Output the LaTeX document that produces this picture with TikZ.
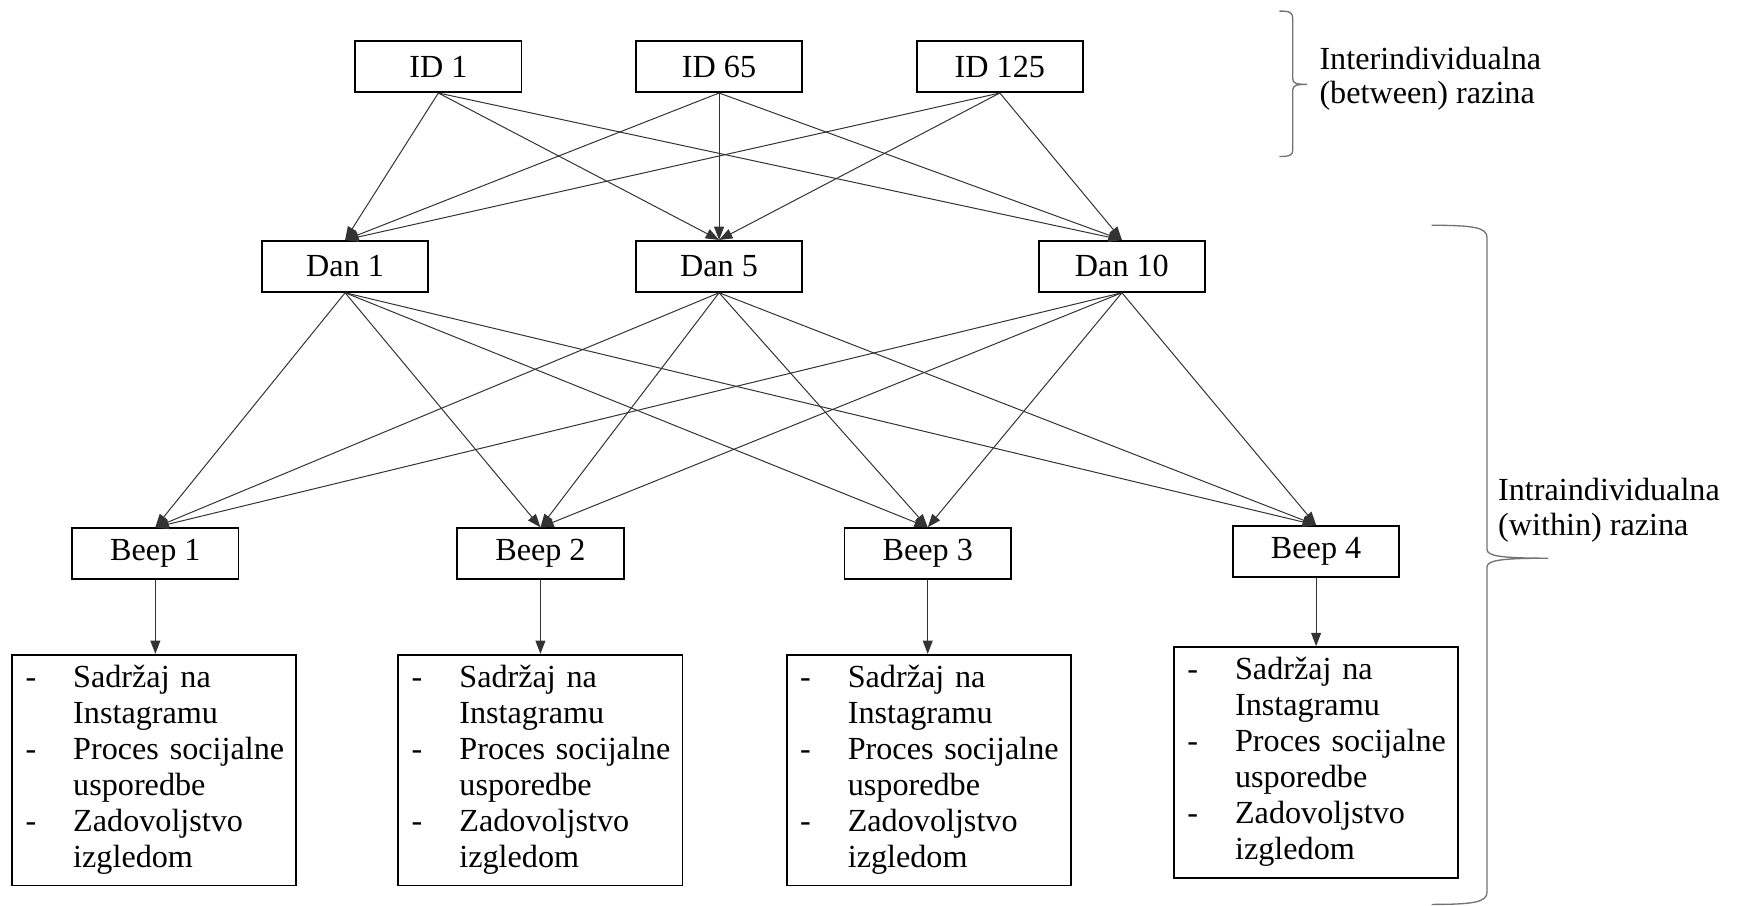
\documentclass[tikz,border=0pt]{standalone}
\usepackage{fontspec}
\setmainfont{Liberation Serif}
\usetikzlibrary{arrows.meta}

\newcommand{\measurelist}{%
  \begin{tabular}{@{}p{21.5pt}@{}l@{}}
    - & Sadržaj na\\
      & Instagramu\\
    - & Proces socijalne\\
      & usporedbe\\
    - & Zadovoljstvo\\
      & izgledom
  \end{tabular}}

\begin{document}
\begin{tikzpicture}[x=0.5pt,y=-0.5pt,
  every node/.style={font=\fontsize{14.5}{16.2}\selectfont},
  levelbox/.style={draw, line width=0.8pt, minimum width=75pt, minimum height=23pt, inner sep=0pt},
  listbox/.style={draw, line width=0.8pt, text width=116pt, inner xsep=6pt, inner ysep=0pt, minimum height=104pt, align=left},
  link/.style={draw=black!80, line width=0.45pt, -{Triangle[length=6pt,width=4.5pt]}},
  curly/.style={draw=black!55, line width=0.6pt}]
  \useasboundingbox (0,0) rectangle (1568,816);

  % levels
  \node[levelbox] (id1) at (395,60) {ID 1};
  \node[levelbox] (id65) at (648,60) {ID 65};
  \node[levelbox] (id125) at (901,60) {ID 125};

  \node[levelbox] (dan1) at (311,240) {Dan 1};
  \node[levelbox] (dan5) at (648,240) {Dan 5};
  \node[levelbox] (dan10) at (1011,240) {Dan 10};

  \node[levelbox] (beep1) at (140,499) {Beep 1};
  \node[levelbox] (beep2) at (487,499) {Beep 2};
  \node[levelbox] (beep3) at (836,499) {Beep 3};
  \node[levelbox] (beep4) at (1186,497) {Beep 4};

  % measures
  \node[listbox] (list1) at (139,694) {\measurelist};
  \node[listbox] (list2) at (487,694) {\measurelist};
  \node[listbox] (list3) at (837,694) {\measurelist};
  \node[listbox] (list4) at (1186,687) {\measurelist};

  % between -> days
  \draw[link] (id1.south) -- (dan1.north);
  \draw[link] (id1.south) -- (dan5.north);
  \draw[link] (id1.south) -- (dan10.north);
  \draw[link] (id65.south) -- (dan1.north);
  \draw[link] (id65.south) -- (dan5.north);
  \draw[link] (id65.south) -- (dan10.north);
  \draw[link] (id125.south) -- (dan1.north);
  \draw[link] (id125.south) -- (dan5.north);
  \draw[link] (id125.south) -- (dan10.north);

  % days -> beeps
  \draw[link] (dan1.south) -- (beep1.north);
  \draw[link] (dan1.south) -- (beep2.north);
  \draw[link] (dan1.south) -- (beep3.north);
  \draw[link] (dan1.south) -- (beep4.north);
  \draw[link] (dan5.south) -- (beep1.north);
  \draw[link] (dan5.south) -- (beep2.north);
  \draw[link] (dan5.south) -- (beep3.north);
  \draw[link] (dan5.south) -- (beep4.north);
  \draw[link] (dan10.south) -- (beep1.north);
  \draw[link] (dan10.south) -- (beep2.north);
  \draw[link] (dan10.south) -- (beep3.north);
  \draw[link] (dan10.south) -- (beep4.north);

  % beeps -> measures
  \draw[link] (beep1.south) -- (beep1.south |- list1.north);
  \draw[link] (beep2.south) -- (beep2.south |- list2.north);
  \draw[link] (beep3.south) -- (beep3.south |- list3.north);
  \draw[link] (beep4.south) -- (beep4.south |- list4.north);

  % braces
  \draw[curly] (1153,10) .. controls (1162,10) and (1165,11) .. (1165,17) -- (1165,71)
    .. controls (1165,75) and (1168,76) .. (1178,76) .. controls (1168,76) and (1165,77) .. (1165,81)
    -- (1165,135) .. controls (1165,140) and (1162,141) .. (1153,141);
  \draw[curly] (1290,203) .. controls (1328,203) and (1340,205) .. (1340,214) -- (1340,495)
    .. controls (1340,501) and (1352,503) .. (1395,503) .. controls (1352,503) and (1340,505) .. (1340,511)
    -- (1340,804) .. controls (1340,813) and (1328,815) .. (1290,815);

  \node[anchor=west, align=left, font=\fontsize{14.5}{15.5}\selectfont] (betweenlbl) at (1182,71) {Interindividualna\\(between) razina};
  \node[anchor=west, align=left, font=\fontsize{14.5}{16}\selectfont] (withinlbl) at (1343,460) {Intraindividualna\\(within) razina};
\end{tikzpicture}
\end{document}
